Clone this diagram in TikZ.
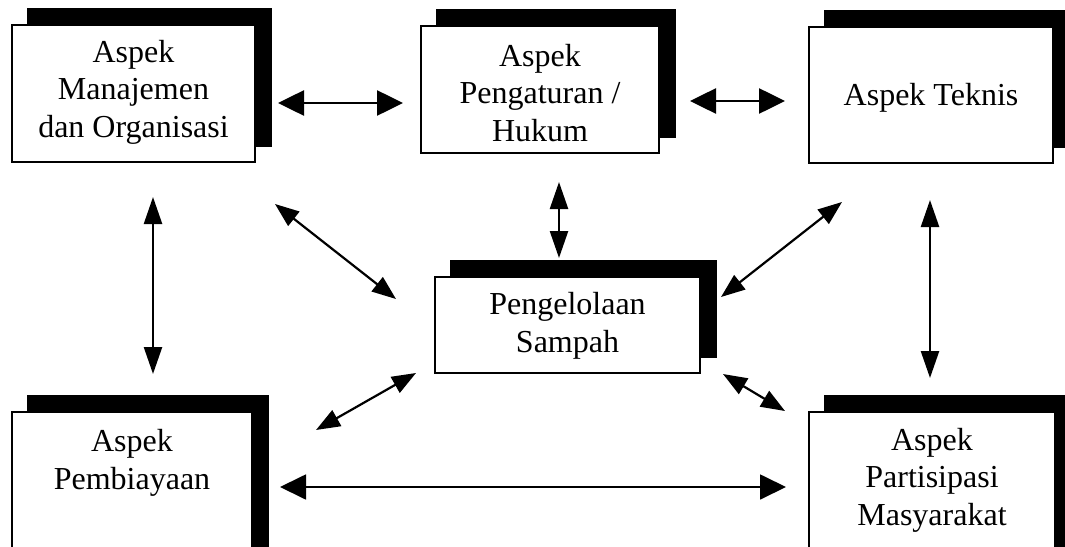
\documentclass[tikz,border=0pt]{standalone}
\usepackage{fontspec}
\setmainfont{Liberation Serif}
\usetikzlibrary{arrows.meta,shadows}
\begin{document}
\begin{tikzpicture}[x=1pt,y=-1pt,
  box/.style={draw=black, line width=1.6pt, fill=white, inner sep=0pt,
    general shadow={shadow xshift=16pt, shadow yshift=16pt, fill=black, draw=black}},
  lbl/.style={align=center, font=\fontsize{32}{37.5}\selectfont, inner sep=0pt},
  dbl/.style={line width=2.6pt, {Triangle[length=26pt,width=25pt]}-{Triangle[length=26pt,width=25pt]}},
  vdbl/.style={line width=2.4pt, {Triangle[length=27pt,width=18pt]}-{Triangle[length=27pt,width=18pt]}},
  diag/.style={line width=2.2pt, {Triangle[length=24pt,width=18pt]}-{Triangle[length=24pt,width=18pt]}}]
\useasboundingbox (0,0) rectangle (1065,546);
\clip (0,0) rectangle (1065,546);
\fill[white] (0,0) rectangle (1065,546);
% boxes
\node[box, minimum width=243pt, minimum height=137pt] (man) at (133.5,93.5) {};
\node[box, minimum width=238pt, minimum height=127pt] (huk) at (540,89.5) {};
\node[box, minimum width=244pt, minimum height=136pt] (tek) at (931,95) {};
\node[box, minimum width=265pt, minimum height=96pt] (sam) at (567.5,325) {};
\node[box, minimum width=240pt, minimum height=168pt] (bia) at (132,496) {};
\node[box, minimum width=246pt, minimum height=168pt] (par) at (932,496) {};
% labels
\node[lbl] (tman) at (133.5,92) {Aspek\\Manajemen\\dan Organisasi};
\node[lbl] (thuk) at (540,93) {Aspek\\Pengaturan /\\Hukum};
\node[lbl] (ttek) at (931,98) {Aspek Teknis};
\node[lbl] (tsam) at (567.5,326) {Pengelolaan\\Sampah};
\node[lbl] (tbia) at (132,463) {Aspek\\Pembiayaan};
\node[lbl] (tpar) at (932,480) {Aspek\\Partisipasi\\Masyarakat};
% connector end points
\coordinate (a1) at (278,103); \coordinate (a2) at (403,103);
\coordinate (b1) at (690,101); \coordinate (b2) at (785,101);
\coordinate (c1) at (275,204); \coordinate (c2) at (396,299);
\coordinate (d1) at (559,182); \coordinate (d2) at (559,258);
\coordinate (e1) at (842,202); \coordinate (e2) at (721,297);
\coordinate (f1) at (416,373); \coordinate (f2) at (316,430);
\coordinate (g1) at (723,374); \coordinate (g2) at (785,411);
\coordinate (h1) at (153,197); \coordinate (h2) at (153,374);
\coordinate (i1) at (930,200); \coordinate (i2) at (930,378);
\coordinate (j1) at (280,487); \coordinate (j2) at (786,487);
% connectors
\draw[dbl] (a1) -- (a2);
\draw[dbl] (b1) -- (b2);
\draw[diag] (c1) -- (c2);
\draw[vdbl] (d1) -- (d2);
\draw[diag] (e1) -- (e2);
\draw[diag] (f1) -- (f2);
\draw[diag] (g1) -- (g2);
\draw[vdbl] (h1) -- (h2);
\draw[vdbl] (i1) -- (i2);
\draw[dbl, line width=1.8pt] (j1) -- (j2);
\end{tikzpicture}
\end{document}
